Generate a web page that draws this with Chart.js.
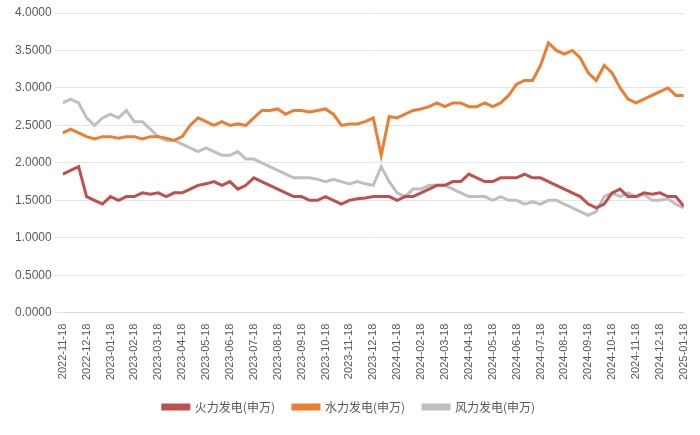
<!DOCTYPE html>
<html><head><meta charset="utf-8">
<script src="https://cdn.jsdelivr.net/npm/chart.js@4"></script>
<style>body{margin:0;background:#fff}#w{width:700px;height:435px}</style></head>
<body><div id="w"><canvas id="c"></canvas></div>
<script>
const tickLabels=["2022-11-18","2022-12-18","2023-01-18","2023-02-18","2023-03-18","2023-04-18","2023-05-18","2023-06-18","2023-07-18","2023-08-18","2023-09-18","2023-10-18","2023-11-18","2023-12-18","2024-01-18","2024-02-18","2024-03-18","2024-04-18","2024-05-18","2024-06-18","2024-07-18","2024-08-18","2024-09-18","2024-10-18","2024-11-18","2024-12-18","2025-01-18"];
const thermal=[1.85,1.9,1.95,1.55,1.5,1.45,1.55,1.5,1.55,1.55,1.6,1.58,1.6,1.55,1.6,1.6,1.65,1.7,1.72,1.75,1.7,1.75,1.65,1.7,1.8,1.75,1.7,1.65,1.6,1.55,1.55,1.5,1.5,1.55,1.5,1.45,1.5,1.52,1.53,1.55,1.55,1.55,1.5,1.55,1.55,1.6,1.65,1.7,1.7,1.75,1.75,1.85,1.8,1.75,1.75,1.8,1.8,1.8,1.85,1.8,1.8,1.75,1.7,1.65,1.6,1.55,1.45,1.4,1.45,1.6,1.65,1.55,1.55,1.6,1.58,1.6,1.55,1.55,1.42];
const hydro=[2.4,2.45,2.4,2.35,2.32,2.35,2.35,2.33,2.35,2.35,2.32,2.35,2.35,2.33,2.3,2.35,2.5,2.6,2.55,2.5,2.55,2.5,2.52,2.5,2.6,2.7,2.7,2.72,2.65,2.7,2.7,2.68,2.7,2.72,2.65,2.5,2.52,2.52,2.55,2.6,2.1,2.62,2.6,2.65,2.7,2.72,2.75,2.8,2.75,2.8,2.8,2.75,2.75,2.8,2.75,2.8,2.9,3.05,3.1,3.1,3.3,3.6,3.5,3.45,3.5,3.4,3.2,3.1,3.3,3.2,3.0,2.85,2.8,2.85,2.9,2.95,3.0,2.9,2.9];
const wind=[2.8,2.85,2.8,2.6,2.5,2.6,2.65,2.6,2.7,2.55,2.55,2.45,2.35,2.3,2.3,2.25,2.2,2.15,2.2,2.15,2.1,2.1,2.15,2.05,2.05,2.0,1.95,1.9,1.85,1.8,1.8,1.8,1.78,1.75,1.78,1.75,1.72,1.75,1.72,1.7,1.95,1.75,1.6,1.55,1.65,1.65,1.7,1.7,1.7,1.65,1.6,1.55,1.55,1.55,1.5,1.55,1.5,1.5,1.45,1.48,1.45,1.5,1.5,1.45,1.4,1.35,1.3,1.35,1.55,1.6,1.55,1.6,1.55,1.58,1.5,1.5,1.52,1.45,1.4];
const pts=a=>a.map((y,i)=>({x:i/3,y}));
const ds=(l,d,c)=>({label:l,data:pts(d),borderColor:c,backgroundColor:c,borderWidth:3,pointRadius:0,tension:0});
new Chart(document.getElementById('c'),{type:'line',
data:{datasets:[ds('火力发电(申万)',thermal,'#C0504D'),ds('水力发电(申万)',hydro,'#ED7D31'),ds('风力发电(申万)',wind,'#BFBFBF')]},
options:{animation:false,responsive:true,maintainAspectRatio:false,
layout:{padding:{left:12,right:14,top:13,bottom:12}},
plugins:{legend:{position:'bottom',labels:{boxWidth:26,boxHeight:4,color:'#595959',font:{size:12,family:'Noto Sans CJK SC'},padding:18}},tooltip:{enabled:false}},
scales:{x:{type:'linear',min:0,max:26,ticks:{stepSize:1,autoSkip:false,maxRotation:90,minRotation:90,color:'#595959',font:{size:11},callback:v=>tickLabels[v]},grid:{display:false},border:{color:'#d9d9d9'}},
y:{min:0,max:4,ticks:{stepSize:0.5,color:'#595959',font:{size:12},callback:v=>v.toFixed(4)},grid:{color:'#e6e6e6'},border:{display:false}}}}});
</script></body></html>
